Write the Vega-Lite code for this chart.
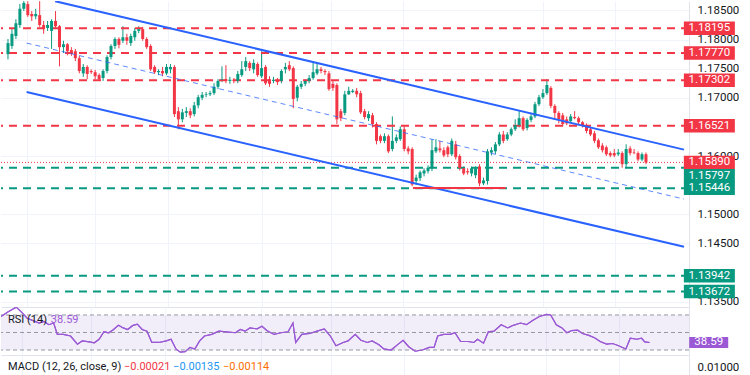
{
"$schema": "https://vega.github.io/schema/vega-lite/v6.json",
"background": "#ffffff",
"padding": 0,
"spacing": 0,
"bounds": "flush",
"config": {"view": {"stroke": null}, "font": "Roboto", "text": {"font": "Roboto"}, "axis": {"labelOverlap": false}},
"datasets": {
"candles": [
{"t":1,"o":1.1775,"h":1.1801,"l":1.1766,"c":1.1794},
{"t":2,"o":1.1789,"h":1.1818,"l":1.1784,"c":1.1810},
{"t":3,"o":1.1806,"h":1.1835,"l":1.1801,"c":1.1828},
{"t":4,"o":1.1825,"h":1.1861,"l":1.1820,"c":1.1853},
{"t":5,"o":1.1853,"h":1.1866,"l":1.1849,"c":1.1863},
{"t":6,"o":1.1861,"h":1.1866,"l":1.1839,"c":1.1842},
{"t":7,"o":1.1844,"h":1.1849,"l":1.1832,"c":1.1840},
{"t":8,"o":1.1840,"h":1.1853,"l":1.1835,"c":1.1844},
{"t":9,"o":1.1842,"h":1.1866,"l":1.1822,"c":1.1825},
{"t":10,"o":1.1825,"h":1.1832,"l":1.1810,"c":1.1820},
{"t":11,"o":1.1820,"h":1.1832,"l":1.1815,"c":1.1825},
{"t":12,"o":1.1815,"h":1.1835,"l":1.1784,"c":1.1832},
{"t":13,"o":1.1832,"h":1.1849,"l":1.1820,"c":1.1823},
{"t":14,"o":1.1823,"h":1.1825,"l":1.1754,"c":1.1787},
{"t":15,"o":1.1787,"h":1.1798,"l":1.1777,"c":1.1792},
{"t":16,"o":1.1792,"h":1.1794,"l":1.1773,"c":1.1780},
{"t":17,"o":1.1782,"h":1.1787,"l":1.1772,"c":1.1777},
{"t":18,"o":1.1780,"h":1.1784,"l":1.1763,"c":1.1768},
{"t":19,"o":1.1768,"h":1.1772,"l":1.1742,"c":1.1746},
{"t":20,"o":1.1742,"h":1.1758,"l":1.1736,"c":1.1753},
{"t":21,"o":1.1753,"h":1.1756,"l":1.1732,"c":1.1741},
{"t":22,"o":1.1746,"h":1.1749,"l":1.1741,"c":1.1744},
{"t":23,"o":1.1744,"h":1.1748,"l":1.1732,"c":1.1737},
{"t":24,"o":1.1739,"h":1.1742,"l":1.1729,"c":1.1732},
{"t":25,"o":1.1734,"h":1.1749,"l":1.1729,"c":1.1746},
{"t":26,"o":1.1746,"h":1.1773,"l":1.1742,"c":1.1770},
{"t":27,"o":1.1770,"h":1.1792,"l":1.1766,"c":1.1789},
{"t":28,"o":1.1789,"h":1.1804,"l":1.1784,"c":1.1801},
{"t":29,"o":1.1801,"h":1.1804,"l":1.1785,"c":1.1791},
{"t":30,"o":1.1798,"h":1.1823,"l":1.1794,"c":1.1804},
{"t":31,"o":1.1804,"h":1.1810,"l":1.1791,"c":1.1798},
{"t":32,"o":1.1794,"h":1.1810,"l":1.1789,"c":1.1806},
{"t":33,"o":1.1804,"h":1.1820,"l":1.1798,"c":1.1815},
{"t":34,"o":1.1815,"h":1.1823,"l":1.1811,"c":1.1818},
{"t":35,"o":1.1818,"h":1.1822,"l":1.1798,"c":1.1801},
{"t":36,"o":1.1801,"h":1.1804,"l":1.1784,"c":1.1787},
{"t":37,"o":1.1789,"h":1.1792,"l":1.1746,"c":1.1749},
{"t":38,"o":1.1753,"h":1.1756,"l":1.1741,"c":1.1744},
{"t":39,"o":1.1744,"h":1.1749,"l":1.1739,"c":1.1746},
{"t":40,"o":1.1746,"h":1.1753,"l":1.1737,"c":1.1742},
{"t":41,"o":1.1742,"h":1.1758,"l":1.1739,"c":1.1753},
{"t":42,"o":1.1749,"h":1.1758,"l":1.1742,"c":1.1753},
{"t":43,"o":1.1753,"h":1.1756,"l":1.1667,"c":1.1672},
{"t":44,"o":1.1677,"h":1.1684,"l":1.1646,"c":1.1663},
{"t":45,"o":1.1663,"h":1.1681,"l":1.1658,"c":1.1675},
{"t":46,"o":1.1674,"h":1.1684,"l":1.1667,"c":1.1677},
{"t":47,"o":1.1677,"h":1.1682,"l":1.1665,"c":1.1670},
{"t":48,"o":1.1672,"h":1.1693,"l":1.1668,"c":1.1687},
{"t":49,"o":1.1687,"h":1.1705,"l":1.1682,"c":1.1701},
{"t":50,"o":1.1700,"h":1.1710,"l":1.1696,"c":1.1705},
{"t":51,"o":1.1705,"h":1.1710,"l":1.1701,"c":1.1706},
{"t":52,"o":1.1706,"h":1.1712,"l":1.1703,"c":1.1708},
{"t":53,"o":1.1708,"h":1.1725,"l":1.1705,"c":1.1719},
{"t":54,"o":1.1719,"h":1.1732,"l":1.1715,"c":1.1729},
{"t":55,"o":1.1731,"h":1.1754,"l":1.1727,"c":1.1732},
{"t":56,"o":1.1732,"h":1.1756,"l":1.1725,"c":1.1729},
{"t":57,"o":1.1729,"h":1.1736,"l":1.1724,"c":1.1731},
{"t":58,"o":1.1731,"h":1.1734,"l":1.1725,"c":1.1729},
{"t":59,"o":1.1729,"h":1.1746,"l":1.1725,"c":1.1741},
{"t":60,"o":1.1739,"h":1.1763,"l":1.1736,"c":1.1749},
{"t":61,"o":1.1753,"h":1.1770,"l":1.1746,"c":1.1763},
{"t":62,"o":1.1760,"h":1.1763,"l":1.1746,"c":1.1751},
{"t":63,"o":1.1749,"h":1.1766,"l":1.1742,"c":1.1760},
{"t":64,"o":1.1758,"h":1.1761,"l":1.1736,"c":1.1739},
{"t":65,"o":1.1737,"h":1.1780,"l":1.1734,"c":1.1751},
{"t":66,"o":1.1753,"h":1.1756,"l":1.1722,"c":1.1725},
{"t":67,"o":1.1732,"h":1.1737,"l":1.1719,"c":1.1724},
{"t":68,"o":1.1729,"h":1.1736,"l":1.1725,"c":1.1731},
{"t":69,"o":1.1731,"h":1.1734,"l":1.1722,"c":1.1727},
{"t":70,"o":1.1729,"h":1.1749,"l":1.1725,"c":1.1746},
{"t":71,"o":1.1749,"h":1.1760,"l":1.1742,"c":1.1753},
{"t":72,"o":1.1756,"h":1.1763,"l":1.1746,"c":1.1749},
{"t":73,"o":1.1751,"h":1.1754,"l":1.1682,"c":1.1698},
{"t":74,"o":1.1700,"h":1.1722,"l":1.1694,"c":1.1719},
{"t":75,"o":1.1719,"h":1.1729,"l":1.1715,"c":1.1724},
{"t":76,"o":1.1724,"h":1.1732,"l":1.1720,"c":1.1729},
{"t":77,"o":1.1729,"h":1.1739,"l":1.1725,"c":1.1734},
{"t":78,"o":1.1734,"h":1.1760,"l":1.1731,"c":1.1744},
{"t":79,"o":1.1742,"h":1.1760,"l":1.1739,"c":1.1749},
{"t":80,"o":1.1749,"h":1.1753,"l":1.1742,"c":1.1746},
{"t":81,"o":1.1746,"h":1.1749,"l":1.1739,"c":1.1744},
{"t":82,"o":1.1742,"h":1.1746,"l":1.1712,"c":1.1715},
{"t":83,"o":1.1724,"h":1.1729,"l":1.1712,"c":1.1717},
{"t":84,"o":1.1722,"h":1.1725,"l":1.1655,"c":1.1663},
{"t":85,"o":1.1677,"h":1.1681,"l":1.1660,"c":1.1665},
{"t":86,"o":1.1674,"h":1.1712,"l":1.1670,"c":1.1706},
{"t":87,"o":1.1706,"h":1.1719,"l":1.1705,"c":1.1712},
{"t":88,"o":1.1710,"h":1.1715,"l":1.1708,"c":1.1712},
{"t":89,"o":1.1712,"h":1.1717,"l":1.1701,"c":1.1706},
{"t":90,"o":1.1708,"h":1.1712,"l":1.1672,"c":1.1675},
{"t":91,"o":1.1677,"h":1.1681,"l":1.1663,"c":1.1667},
{"t":92,"o":1.1665,"h":1.1677,"l":1.1660,"c":1.1672},
{"t":93,"o":1.1670,"h":1.1674,"l":1.1649,"c":1.1655},
{"t":94,"o":1.1655,"h":1.1658,"l":1.1620,"c":1.1626},
{"t":95,"o":1.1634,"h":1.1637,"l":1.1622,"c":1.1626},
{"t":96,"o":1.1626,"h":1.1639,"l":1.1622,"c":1.1634},
{"t":97,"o":1.1634,"h":1.1637,"l":1.1605,"c":1.1608},
{"t":98,"o":1.1612,"h":1.1668,"l":1.1608,"c":1.1626},
{"t":99,"o":1.1626,"h":1.1637,"l":1.1622,"c":1.1632},
{"t":100,"o":1.1629,"h":1.1651,"l":1.1626,"c":1.1646},
{"t":101,"o":1.1646,"h":1.1651,"l":1.1608,"c":1.1612},
{"t":102,"o":1.1613,"h":1.1617,"l":1.1603,"c":1.1608},
{"t":103,"o":1.1612,"h":1.1615,"l":1.1548,"c":1.1551},
{"t":104,"o":1.1557,"h":1.1568,"l":1.1550,"c":1.1563},
{"t":105,"o":1.1562,"h":1.1575,"l":1.1557,"c":1.1572},
{"t":106,"o":1.1570,"h":1.1579,"l":1.1565,"c":1.1575},
{"t":107,"o":1.1574,"h":1.1584,"l":1.1570,"c":1.1580},
{"t":108,"o":1.1579,"h":1.1629,"l":1.1574,"c":1.1610},
{"t":109,"o":1.1608,"h":1.1629,"l":1.1605,"c":1.1615},
{"t":110,"o":1.1613,"h":1.1626,"l":1.1606,"c":1.1610},
{"t":111,"o":1.1610,"h":1.1615,"l":1.1598,"c":1.1601},
{"t":112,"o":1.1615,"h":1.1618,"l":1.1598,"c":1.1603},
{"t":113,"o":1.1603,"h":1.1630,"l":1.1600,"c":1.1626},
{"t":114,"o":1.1620,"h":1.1626,"l":1.1594,"c":1.1598},
{"t":115,"o":1.1600,"h":1.1603,"l":1.1575,"c":1.1579},
{"t":116,"o":1.1579,"h":1.1582,"l":1.1567,"c":1.1570},
{"t":117,"o":1.1574,"h":1.1579,"l":1.1568,"c":1.1572},
{"t":118,"o":1.1570,"h":1.1582,"l":1.1565,"c":1.1579},
{"t":119,"o":1.1567,"h":1.1582,"l":1.1562,"c":1.1579},
{"t":120,"o":1.1582,"h":1.1586,"l":1.1548,"c":1.1553},
{"t":121,"o":1.1553,"h":1.1563,"l":1.1550,"c":1.1558},
{"t":122,"o":1.1557,"h":1.1612,"l":1.1551,"c":1.1608},
{"t":123,"o":1.1606,"h":1.1615,"l":1.1601,"c":1.1610},
{"t":124,"o":1.1608,"h":1.1624,"l":1.1603,"c":1.1620},
{"t":125,"o":1.1620,"h":1.1641,"l":1.1617,"c":1.1637},
{"t":126,"o":1.1637,"h":1.1643,"l":1.1622,"c":1.1626},
{"t":127,"o":1.1629,"h":1.1641,"l":1.1626,"c":1.1637},
{"t":128,"o":1.1637,"h":1.1649,"l":1.1634,"c":1.1646},
{"t":129,"o":1.1646,"h":1.1663,"l":1.1643,"c":1.1653},
{"t":130,"o":1.1653,"h":1.1677,"l":1.1649,"c":1.1665},
{"t":131,"o":1.1665,"h":1.1668,"l":1.1643,"c":1.1646},
{"t":132,"o":1.1648,"h":1.1665,"l":1.1644,"c":1.1662},
{"t":133,"o":1.1662,"h":1.1674,"l":1.1658,"c":1.1668},
{"t":134,"o":1.1668,"h":1.1693,"l":1.1665,"c":1.1689},
{"t":135,"o":1.1689,"h":1.1705,"l":1.1686,"c":1.1701},
{"t":136,"o":1.1701,"h":1.1715,"l":1.1698,"c":1.1708},
{"t":137,"o":1.1708,"h":1.1732,"l":1.1705,"c":1.1722},
{"t":138,"o":1.1717,"h":1.1720,"l":1.1682,"c":1.1686},
{"t":139,"o":1.1686,"h":1.1689,"l":1.1663,"c":1.1674},
{"t":140,"o":1.1674,"h":1.1677,"l":1.1656,"c":1.1663},
{"t":141,"o":1.1670,"h":1.1674,"l":1.1651,"c":1.1655},
{"t":142,"o":1.1663,"h":1.1668,"l":1.1653,"c":1.1656},
{"t":143,"o":1.1660,"h":1.1672,"l":1.1656,"c":1.1668},
{"t":144,"o":1.1667,"h":1.1677,"l":1.1663,"c":1.1665},
{"t":145,"o":1.1665,"h":1.1668,"l":1.1655,"c":1.1658},
{"t":146,"o":1.1658,"h":1.1660,"l":1.1649,"c":1.1653},
{"t":147,"o":1.1653,"h":1.1656,"l":1.1639,"c":1.1643},
{"t":148,"o":1.1646,"h":1.1649,"l":1.1634,"c":1.1637},
{"t":149,"o":1.1639,"h":1.1643,"l":1.1622,"c":1.1626},
{"t":150,"o":1.1627,"h":1.1630,"l":1.1612,"c":1.1615},
{"t":151,"o":1.1618,"h":1.1622,"l":1.1606,"c":1.1610},
{"t":152,"o":1.1615,"h":1.1618,"l":1.1600,"c":1.1603},
{"t":153,"o":1.1605,"h":1.1608,"l":1.1598,"c":1.1601},
{"t":154,"o":1.1605,"h":1.1612,"l":1.1598,"c":1.1601},
{"t":155,"o":1.1603,"h":1.1612,"l":1.1600,"c":1.1606},
{"t":156,"o":1.1605,"h":1.1608,"l":1.1580,"c":1.1586},
{"t":157,"o":1.1586,"h":1.1620,"l":1.1579,"c":1.1612},
{"t":158,"o":1.1613,"h":1.1617,"l":1.1601,"c":1.1605},
{"t":159,"o":1.1606,"h":1.1612,"l":1.1603,"c":1.1605},
{"t":160,"o":1.1605,"h":1.1608,"l":1.1591,"c":1.1594},
{"t":161,"o":1.1594,"h":1.1606,"l":1.1591,"c":1.1603},
{"t":162,"o":1.1603,"h":1.1606,"l":1.1586,"c":1.1589}
],
"levels": [
{"p":1.18195,"kind":"res"},
{"p":1.1777,"kind":"res"},
{"p":1.17302,"kind":"res"},
{"p":1.16521,"kind":"res"},
{"p":1.15797,"kind":"sup"},
{"p":1.15446,"kind":"sup"},
{"p":1.13942,"kind":"sup"},
{"p":1.13672,"kind":"sup"},
{"p":1.1589,"kind":"cur"}
],
"drawings": [
{"id":"upper","t":12.9,"p":1.1866},
{"id":"upper","t":171.6,"p":1.1611},
{"id":"lower","t":5.7,"p":1.1710},
{"id":"lower","t":171.6,"p":1.1444},
{"id":"mid","t":5.7,"p":1.1794},
{"id":"mid","t":171.6,"p":1.1526},
{"id":"floor","t":103.2,"p":1.1545},
{"id":"floor","t":126.6,"p":1.1545}
],
"rsi": [
{"t":0.5,"v":68.2},{"t":2.3,"v":73.7},{"t":4.3,"v":78.9},{"t":5.9,"v":71.9},{"t":7.0,"v":66.3},
{"t":10.0,"v":60.8},{"t":11.2,"v":62.6},{"t":12.4,"v":58.9},{"t":13.6,"v":60.8},{"t":14.5,"v":47.8},
{"t":16.0,"v":47.8},{"t":17.8,"v":46.0},{"t":19.5,"v":36.7},{"t":20.7,"v":40.4},{"t":22.5,"v":39.3},
{"t":23.7,"v":38.2},{"t":24.9,"v":42.3},{"t":26.1,"v":50.8},{"t":27.3,"v":49.7},{"t":28.5,"v":53.4},
{"t":29.7,"v":58.2},{"t":30.9,"v":55.2},{"t":32.0,"v":53.4},{"t":33.2,"v":57.8},{"t":34.4,"v":59.6},
{"t":35.6,"v":53.4},{"t":36.8,"v":51.5},{"t":38.0,"v":38.6},{"t":39.8,"v":38.6},{"t":41.6,"v":40.4},
{"t":42.8,"v":42.3},{"t":44.0,"v":31.2},{"t":45.1,"v":27.5},{"t":46.3,"v":28.2},{"t":47.5,"v":33.0},
{"t":48.7,"v":31.2},{"t":49.9,"v":40.4},{"t":51.1,"v":46.0},{"t":52.9,"v":47.8},{"t":54.7,"v":51.5},
{"t":56.5,"v":50.8},{"t":58.8,"v":49.7},{"t":60.0,"v":53.4},{"t":61.2,"v":51.5},{"t":62.4,"v":55.2},
{"t":64.2,"v":54.1},{"t":65.4,"v":57.1},{"t":66.6,"v":52.2},{"t":68.4,"v":47.8},{"t":70.1,"v":49.7},
{"t":71.9,"v":50.8},{"t":73.1,"v":60.8},{"t":73.8,"v":38.6},{"t":75.3,"v":47.8},{"t":77.3,"v":48.9},
{"t":79.1,"v":51.5},{"t":80.9,"v":54.1},{"t":82.4,"v":46.0},{"t":83.8,"v":34.9},{"t":85.6,"v":38.6},
{"t":86.8,"v":40.4},{"t":88.6,"v":47.8},{"t":90.0,"v":41.1},{"t":91.6,"v":38.6},{"t":92.8,"v":40.4},
{"t":94.5,"v":36.0},{"t":95.7,"v":31.2},{"t":97.5,"v":30.0},{"t":99.3,"v":36.7},{"t":100.5,"v":41.1},
{"t":101.9,"v":33.7},{"t":103.5,"v":28.6},{"t":105.3,"v":30.0},{"t":107.0,"v":33.0},{"t":108.2,"v":33.0},
{"t":109.1,"v":46.0},{"t":110.6,"v":47.8},{"t":112.2,"v":47.8},{"t":113.4,"v":49.7},{"t":114.8,"v":39.7},
{"t":116.6,"v":39.7},{"t":118.1,"v":38.6},{"t":119.0,"v":42.3},{"t":120.5,"v":37.8},{"t":121.7,"v":50.8},
{"t":123.1,"v":51.5},{"t":124.9,"v":58.9},{"t":126.5,"v":55.2},{"t":127.9,"v":58.2},{"t":129.7,"v":60.8},
{"t":131.2,"v":58.9},{"t":132.6,"v":63.3},{"t":134.4,"v":68.2},{"t":136.2,"v":70.7},{"t":137.2,"v":70.0},
{"t":138.6,"v":58.9},{"t":140.0,"v":55.2},{"t":141.2,"v":49.7},{"t":142.4,"v":52.2},{"t":143.9,"v":52.6},
{"t":145.1,"v":48.9},{"t":146.7,"v":46.7},{"t":148.1,"v":44.1},{"t":149.5,"v":39.7},{"t":151.1,"v":36.7},
{"t":152.6,"v":37.4},{"t":154.1,"v":34.9},{"t":155.9,"v":31.2},{"t":157.0,"v":43.4},{"t":158.6,"v":42.3},
{"t":159.8,"v":43.4},{"t":160.6,"v":39.3},{"t":161.8,"v":38.59}
],
"rsiBands": [{"v":30},{"v":50},{"v":70}],
"rsiZone": [{"lo":30,"hi":70}],
"ind": [{"rsi":38.59,"hist":-0.00021,"macd":-0.00135,"signal":-0.00114}]
},
"vconcat": [
{
"width": 688, "height": 306,
"layer": [
{"data": {"name": "candles"}, "mark": {"type": "rule", "strokeWidth": 1},
 "encoding": {
  "x": {"field": "t", "type": "quantitative", "scale": {"domain": [0.5, 171.6], "nice": false, "zero": false},
        "axis": {"orient": "bottom", "values": [5.7, 22.9, 41.3, 65.2, 82.6, 100.7, 136.1, 154.2], "grid": true, "gridColor": "#f0f3fa", "labels": false, "ticks": false, "domain": true, "domainColor": "#e0e3eb", "title": null}},
  "y": {"field": "l", "type": "quantitative", "scale": {"domain": [1.13406, 1.18663], "nice": false, "zero": false},
        "axis": {"orient": "right", "values": [1.135, 1.145, 1.15, 1.16, 1.17, 1.175, 1.18, 1.185], "format": ".5f",
                 "labelOverlap": false,
                 "grid": true, "gridColor": "#f0f3fa", "ticks": false, "domain": true, "domainColor": "#e0e3eb",
                 "labelPadding": 8, "labelFontSize": 11.5, "labelColor": "#131722", "labelFont": "Roboto", "title": null}},
  "y2": {"field": "h"},
  "color": {"condition": {"test": "datum.c >= datum.o", "value": "#089981"}, "value": "#f23645"}
 }},
{"data": {"name": "levels"}, "transform": [{"filter": "datum.kind != 'cur'"}],
 "mark": {"type": "rule", "strokeWidth": 2, "strokeDash": [8, 6]},
 "encoding": {
  "y": {"field": "p", "type": "quantitative"},
  "color": {"field": "kind", "type": "nominal", "scale": {"domain": ["res", "sup", "cur"], "range": ["#f23645", "#089981", "#f23645"]}, "legend": null}
 }},
{"data": {"name": "levels"}, "transform": [{"filter": "datum.kind == 'cur'"}],
 "mark": {"type": "rule", "strokeWidth": 1, "strokeDash": [1, 2], "color": "#f23645"},
 "encoding": {"y": {"field": "p", "type": "quantitative"}}},
{"data": {"name": "candles"}, "mark": {"type": "bar", "width": 3},
 "encoding": {
  "x": {"field": "t", "type": "quantitative"},
  "y": {"field": "o", "type": "quantitative"}, "y2": {"field": "c"},
  "color": {"condition": {"test": "datum.c >= datum.o", "value": "#089981"}, "value": "#f23645"}
 }},
{"data": {"name": "drawings"}, "transform": [{"filter": "datum.id == 'upper' || datum.id == 'lower'"}],
 "mark": {"type": "line", "strokeWidth": 2, "color": "#2962ff", "clip": true},
 "encoding": {"x": {"field": "t", "type": "quantitative"}, "y": {"field": "p", "type": "quantitative"}, "detail": {"field": "id", "type": "nominal"}}},
{"data": {"name": "drawings"}, "transform": [{"filter": "datum.id == 'mid'"}],
 "mark": {"type": "line", "strokeWidth": 1, "color": "#2962ff", "opacity": 0.75, "strokeDash": [5, 4]},
 "encoding": {"x": {"field": "t", "type": "quantitative"}, "y": {"field": "p", "type": "quantitative"}}},
{"data": {"name": "drawings"}, "transform": [{"filter": "datum.id == 'floor'"}],
 "mark": {"type": "line", "strokeWidth": 2, "color": "#f23645"},
 "encoding": {"x": {"field": "t", "type": "quantitative"}, "y": {"field": "p", "type": "quantitative"}}},
{"data": {"name": "levels"}, "transform": [{"filter": "datum.p != 1.15797"}],
 "mark": {"type": "point", "filled": true, "opacity": 1, "size": 2601, "shape": "M-1,-0.265L1,-0.265L1,0.265L-1,0.265Z"},
 "encoding": {"x": {"datum": 178, "type": "quantitative"}, "y": {"field": "p", "type": "quantitative"}, "color": {"field": "kind", "type": "nominal", "legend": null}}},
{"data": {"name": "levels"}, "transform": [{"filter": "datum.p == 1.15797"}],
 "mark": {"type": "point", "filled": true, "opacity": 1, "size": 2601, "yOffset": 8, "shape": "M-1,-0.265L1,-0.265L1,0.265L-1,0.265Z"},
 "encoding": {"x": {"datum": 178, "type": "quantitative"}, "y": {"field": "p", "type": "quantitative"}, "color": {"field": "kind", "type": "nominal", "legend": null}}},
{"data": {"name": "levels"}, "transform": [{"filter": "datum.p != 1.15797"}],
 "mark": {"type": "text", "color": "#ffffff", "fontSize": 11.5, "align": "center", "baseline": "middle"},
 "encoding": {"x": {"datum": 178, "type": "quantitative"}, "y": {"field": "p", "type": "quantitative"}, "text": {"field": "p", "type": "quantitative", "format": ".5f"}}},
{"data": {"name": "levels"}, "transform": [{"filter": "datum.p == 1.15797"}],
 "mark": {"type": "text", "color": "#ffffff", "fontSize": 11.5, "align": "center", "baseline": "middle", "yOffset": 8},
 "encoding": {"x": {"datum": 178, "type": "quantitative"}, "y": {"field": "p", "type": "quantitative"}, "text": {"field": "p", "type": "quantitative", "format": ".5f"}}}
]
},
{
"width": 688, "height": 48,
"layer": [
{"data": {"name": "rsi"}, "mark": {"type": "line", "strokeWidth": 1.2, "color": "#9b59d6", "clip": true},
 "encoding": {
  "x": {"field": "t", "type": "quantitative", "scale": {"domain": [0.5, 171.6], "nice": false, "zero": false},
        "axis": {"orient": "bottom", "values": [5.7, 22.9, 41.3, 65.2, 82.6, 100.7, 136.1, 154.2], "grid": true, "gridColor": "#f0f3fa", "labels": false, "ticks": false, "domain": true, "domainColor": "#e0e3eb", "title": null}},
  "y": {"field": "v", "type": "quantitative", "scale": {"domain": [24.3, 79.1], "nice": false, "zero": false},
        "axis": {"orient": "right", "values": [50], "grid": false, "ticks": false, "labels": false, "domain": true, "domainColor": "#e0e3eb", "title": null}}
 }},
{"data": {"name": "rsiZone"},
 "mark": {"type": "rect", "color": "#7e57c2", "opacity": 0.1},
 "encoding": {
  "y": {"field": "lo", "type": "quantitative"},
  "y2": {"field": "hi"}
 }},
{"data": {"name": "rsiBands"}, "mark": {"type": "rule", "strokeWidth": 1, "strokeDash": [4, 3], "color": "#9598a1"},
 "encoding": {"y": {"field": "v", "type": "quantitative"}}},
{"data": {"name": "rsi"}, "mark": {"type": "line", "strokeWidth": 1.2, "color": "#9b59d6", "clip": true},
 "encoding": {"x": {"field": "t", "type": "quantitative"}, "y": {"field": "v", "type": "quantitative"}}},
{"data": {"name": "ind"}, "mark": {"type": "text", "fontSize": 11, "color": "#131722", "align": "left", "baseline": "middle"},
 "encoding": {"x": {"datum": 2.24, "type": "quantitative"}, "y": {"datum": 64.3, "type": "quantitative"}, "text": {"value": "RSI (14)"}}},
{"data": {"name": "ind"}, "mark": {"type": "text", "fontSize": 11, "color": "#9b59d6", "align": "left", "baseline": "middle"},
 "encoding": {"x": {"datum": 12.9, "type": "quantitative"}, "y": {"datum": 64.3, "type": "quantitative"}, "text": {"field": "rsi", "type": "quantitative", "format": ".2f"}}},
{"data": {"name": "ind"}, "mark": {"type": "point", "filled": true, "opacity": 1, "size": 1521, "color": "#9b59d6", "shape": "M-1,-0.28L1,-0.28L1,0.28L-1,0.28Z"},
 "encoding": {"x": {"datum": 176.5, "type": "quantitative"}, "y": {"field": "rsi", "type": "quantitative"}}},
{"data": {"name": "ind"}, "mark": {"type": "text", "fontSize": 11.5, "color": "#ffffff", "align": "center", "baseline": "middle"},
 "encoding": {"x": {"datum": 176.5, "type": "quantitative"}, "y": {"field": "rsi", "type": "quantitative"}, "text": {"field": "rsi", "type": "quantitative", "format": ".2f"}}}
]
},
{
"width": 688, "height": 21,
"layer": [
{"data": {"name": "ind"}, "mark": {"type": "text", "fontSize": 11, "color": "#131722", "align": "left", "baseline": "middle"},
 "encoding": {
  "x": {"datum": 2.24, "type": "quantitative", "scale": {"domain": [0.5, 171.6], "nice": false, "zero": false},
        "axis": {"orient": "bottom", "values": [5.7, 22.9, 41.3, 65.2, 82.6, 100.7, 136.1, 154.2], "grid": true, "gridColor": "#f0f3fa", "labels": false, "ticks": false, "domain": false, "title": null}},
  "y": {"datum": 0.01, "type": "quantitative", "scale": {"domain": [0.005, 0.0172], "nice": false, "zero": false},
        "axis": {"orient": "right", "values": [0.01], "format": ".5f", "grid": false, "ticks": false, "domain": true, "domainColor": "#e0e3eb",
                 "labelPadding": 8, "labelFontSize": 11.5, "labelColor": "#131722", "labelFont": "Roboto", "title": null}},
  "text": {"value": "MACD (12, 26, close, 9)"}
 }},
{"data": {"name": "ind"}, "mark": {"type": "text", "fontSize": 11, "color": "#f23645", "align": "left", "baseline": "middle"},
 "encoding": {"x": {"datum": 31.1, "type": "quantitative"}, "y": {"datum": 0.01, "type": "quantitative"}, "text": {"field": "hist", "type": "quantitative", "format": ".5f"}}},
{"data": {"name": "ind"}, "mark": {"type": "text", "fontSize": 11, "color": "#2196f3", "align": "left", "baseline": "middle"},
 "encoding": {"x": {"datum": 43.3, "type": "quantitative"}, "y": {"datum": 0.01, "type": "quantitative"}, "text": {"field": "macd", "type": "quantitative", "format": ".5f"}}},
{"data": {"name": "ind"}, "mark": {"type": "text", "fontSize": 11, "color": "#ff6d00", "align": "left", "baseline": "middle"},
 "encoding": {"x": {"datum": 55.7, "type": "quantitative"}, "y": {"datum": 0.01, "type": "quantitative"}, "text": {"field": "signal", "type": "quantitative", "format": ".5f"}}}
]
}
]
}
